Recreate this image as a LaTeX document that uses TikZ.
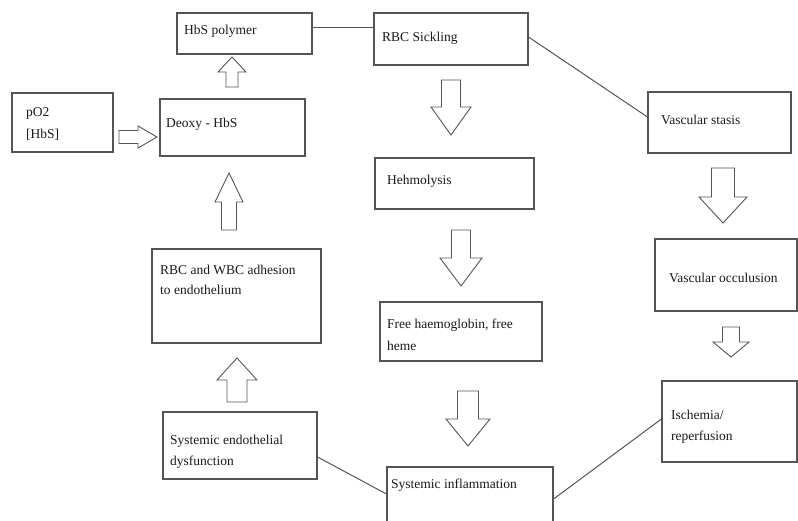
\documentclass[tikz,border=0pt]{standalone}
\usepackage{fontspec}
\setmainfont{Liberation Serif}
\definecolor{edge}{HTML}{555555}
\definecolor{ink}{HTML}{1A1A1A}
\newcommand{\vblock}[6]{% cx, tail y, head-base y, tip y, shaft half width, head half width
  \draw[blockarrow] (#1-#5,#2) -- (#1+#5,#2) -- (#1+#5,#3) -- (#1+#6,#3) -- (#1,#4)
    -- (#1-#6,#3) -- (#1-#5,#3) -- cycle;}
\begin{document}
\begin{tikzpicture}[x=1pt,y=-1pt,
  box/.style={draw=edge,line width=1.1pt,inner sep=0pt,fill=white},
  lbl/.style={anchor=base west,inner sep=0pt,text=ink,font=\fontsize{13.5}{21}\selectfont},
  blockarrow/.style={draw=edge,line width=0.9pt,line join=miter},
  link/.style={draw=edge,line width=1pt}]
\useasboundingbox[fill=white] (0,0) rectangle (798,521);
% boxes
\node[box,minimum width=135pt,minimum height=41pt] (hbs) at (244.5,33.5) {};
\node[box,minimum width=154pt,minimum height=52pt] (rbc) at (451,39) {};
\node[box,minimum width=101pt,minimum height=59pt] (po2) at (62.5,122.5) {};
\node[box,minimum width=145pt,minimum height=57pt] (deoxy) at (232.5,127.5) {};
\node[box,minimum width=143pt,minimum height=61pt] (stasis) at (719.5,122.5) {};
\node[box,minimum width=159pt,minimum height=51pt] (hemo) at (454.5,183.5) {};
\node[box,minimum width=169pt,minimum height=94pt] (adh) at (236.5,296) {};
\node[box,minimum width=162pt,minimum height=59pt] (free) at (461,331.5) {};
\node[box,minimum width=142pt,minimum height=72pt] (occ) at (726,275) {};
\node[box,minimum width=135pt,minimum height=81pt] (isch) at (729.5,421.5) {};
\node[box,minimum width=154pt,minimum height=67pt] (dysf) at (240,445.5) {};
\node[box,minimum width=166pt,minimum height=63pt] (infl) at (470,498.5) {};
% texts
\node[lbl] (t-hbs) at (184,35) {HbS polymer};
\node[lbl] (t-rbc) at (382,42) {RBC Sickling};
\node[lbl] (t-po2a) at (26,117) {pO2};
\node[lbl] (t-po2b) at (26,139) {[HbS]};
\node[lbl] (t-deoxy) at (166,128) {Deoxy - HbS};
\node[lbl] (t-stasis) at (661,125) {Vascular stasis};
\node[lbl] (t-hemo) at (387,185) {Hehmolysis};
\node[lbl] (t-adha) at (160,275) {RBC and WBC adhesion};
\node[lbl] (t-adhb) at (160,295) {to endothelium};
\node[lbl] (t-freea) at (387,329) {Free haemoglobin, free};
\node[lbl] (t-freeb) at (387,350) {heme};
\node[lbl] (t-occ) at (669,283) {Vascular occulusion};
\node[lbl] (t-ischa) at (671,419) {Ischemia/};
\node[lbl] (t-ischb) at (671,440) {reperfusion};
\node[lbl] (t-dysfa) at (170,444) {Systemic endothelial};
\node[lbl] (t-dysfb) at (170,465) {dysfunction};
\node[lbl] (t-infl) at (391,488) {Systemic inflammation};
% plain connectors
\draw[link] ([yshift=5.5pt]hbs.east) coordinate (c1) -- (c1 -| rbc.west);
\draw[link] ([yshift=2pt]rbc.east) -- ([yshift=5.5pt]stasis.west);
\draw[link] ([yshift=-11.5pt]dysf.east) -- ([yshift=4.5pt]infl.west);
\draw[link] ([yshift=2.5pt]isch.west) -- ([yshift=-0.5pt]infl.east);
% block arrows
\vblock{232}{87}{72}{57}{6}{14}
\draw[blockarrow] (119,130.5) -- (138,130.5) -- (138,126) -- (157,137) -- (138,148)
  -- (138,143.5) -- (119,143.5) -- cycle;
\vblock{451}{80}{107}{135}{9.5}{20}
\vblock{461}{230}{258}{286}{9.5}{21}
\vblock{229}{230}{202}{173}{7.5}{14}
\vblock{237}{402}{380}{358}{10}{20}
\vblock{468}{391}{419}{446}{10.5}{22}
\vblock{723}{168}{197}{223}{11.5}{24}
\vblock{731}{327}{342}{357}{8.5}{18}
\end{tikzpicture}
\end{document}
